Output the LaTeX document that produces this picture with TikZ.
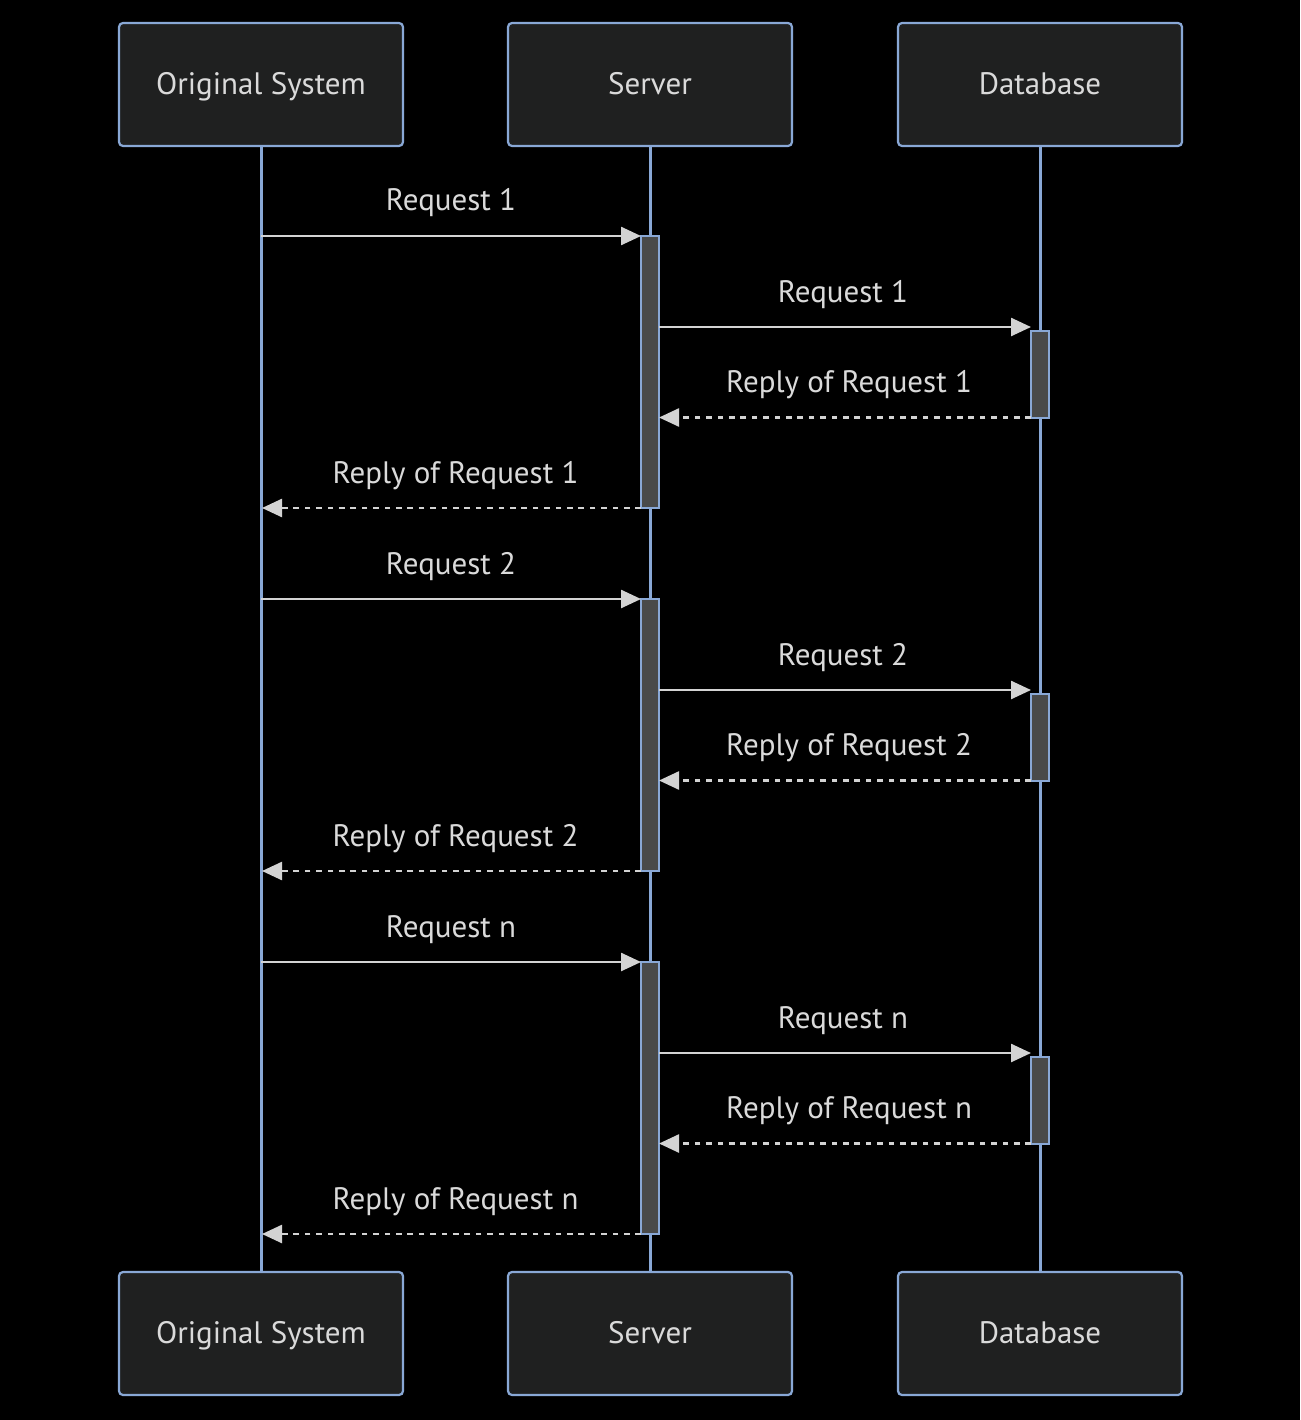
\documentclass[tikz,border=0pt]{standalone}
\usepackage{fontspec}
\setmainfont{PT Sans}
\usetikzlibrary{arrows.meta}
\definecolor{boxfill}{HTML}{1F2020}
\definecolor{boxline}{HTML}{89A8D6}
\definecolor{actfill}{HTML}{494A4A}
\definecolor{msgcol}{HTML}{D3D3D3}
\definecolor{txtcol}{HTML}{DADADA}
\tikzset{
  actor/.style={draw=boxline, fill=boxfill, line width=2.2pt, rounded corners=4pt,
    minimum width=284pt, minimum height=123pt, inner sep=0pt, text=txtcol},
  life/.style={draw=boxline, line width=3pt},
  actbox/.style={draw=boxline, fill=actfill, line width=2.2pt, minimum width=18pt, inner sep=0pt},
  msg/.style={draw=msgcol, line width=2.5pt, -{Triangle[length=20pt,width=18pt]}},
  reply/.style={msg, dash pattern=on 5.7pt off 5.7pt},
  lab/.style={text=txtcol, font=\fontsize{31}{34}\selectfont, anchor=base, inner sep=0pt}
}
\begin{document}
\begin{tikzpicture}[x=1pt,y=-1pt]
\fill[black] (0,0) rectangle (1300,1420);
\useasboundingbox (0,0) rectangle (1300,1420);
% lifelines
\coordinate (l1t) at (261,146); \coordinate (l1b) at (261,1272);
\coordinate (l2t) at (650,146); \coordinate (l2b) at (650,1272);
\coordinate (l3t) at (1040,146); \coordinate (l3b) at (1040,1272);
\draw[life] (l1t) -- (l1b);
\draw[life] (l2t) -- (l2b);
\draw[life] (l3t) -- (l3b);
% actors
\node[actor] (a1) at (261,84.5) {};
\node[actor] (a2) at (650,84.5) {};
\node[actor] (a3) at (1040,84.5) {};
\node[actor] (b1) at (261,1333.5) {};
\node[actor] (b2) at (650,1333.5) {};
\node[actor] (b3) at (1040,1333.5) {};
\foreach \n/\t in {a1/Original System, a2/Server, a3/Database, b1/Original System, b2/Server, b3/Database}
  \node[lab] (t\n) at ([yshift=-10pt]\n.center) {\t};
% rounds
\foreach \i/\k/\o in {1/1/0, 2/2/363, 3/n/726} {
  \node[actbox, minimum height=272pt] (s\i) at (650,{372.3+\o}) {};
  \node[actbox, minimum height=87pt] (d\i) at (1040,{374.3+\o}) {};
  \coordinate (o\i a) at (261,{236+\o});
  \coordinate (s\i a) at (641,{236+\o});
  \coordinate (s\i b) at (659,{327+\o});
  \coordinate (d\i b) at (1031,{327+\o});
  \coordinate (d\i c) at (1031,{417.5+\o});
  \coordinate (s\i c) at (659,{417.5+\o});
  \coordinate (s\i d) at (641,{508+\o});
  \coordinate (o\i d) at (262,{508+\o});
  \draw[msg] (o\i a) -- (s\i a) node[lab, midway, yshift=25pt] {Request \k};
  \draw[msg] (s\i b) -- (d\i b) node[lab, midway, yshift=25pt, xshift=-2pt] {Request \k};
  \draw[reply] (d\i c) -- (s\i c) node[lab, midway, yshift=25pt, xshift=4pt] {Reply of Request \k};
  \draw[reply] (s\i d) -- (o\i d) node[lab, midway, yshift=25pt, xshift=4pt] {Reply of Request \k};
}
\end{tikzpicture}
\end{document}
